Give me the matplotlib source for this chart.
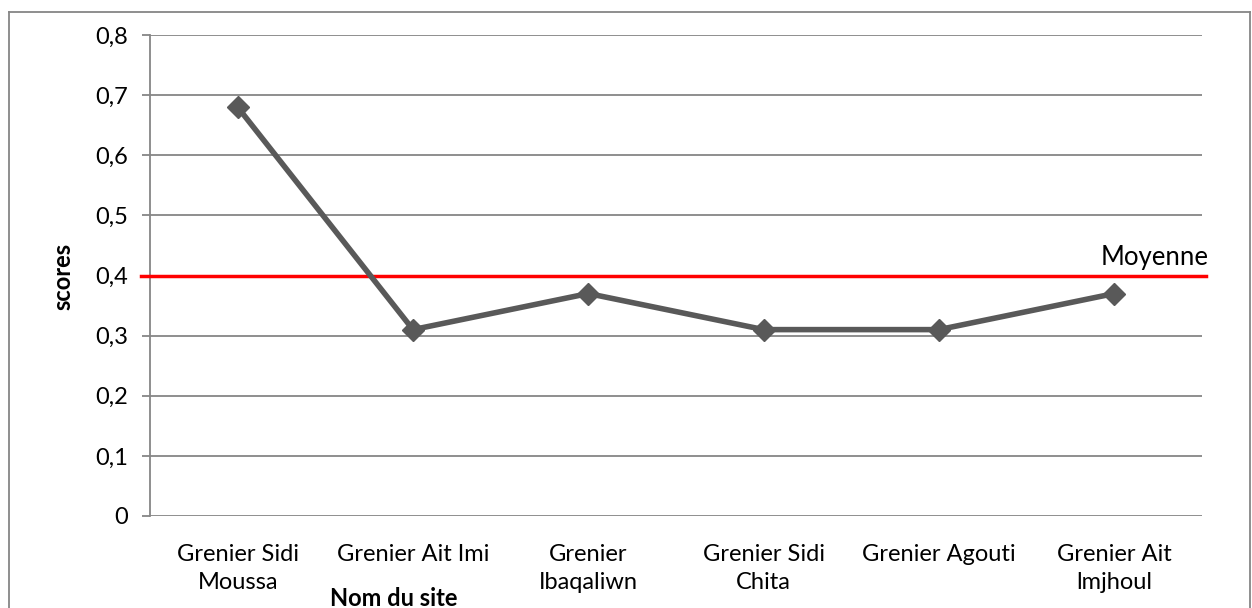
import matplotlib
matplotlib.use("Agg")
import matplotlib.pyplot as plt
from matplotlib.lines import Line2D

sites = ["Grenier Sidi\nMoussa", "Grenier Ait Imi", "Grenier\nIbaqaliwn",
         "Grenier Sidi\nChita", "Grenier Agouti", "Grenier Ait\nlmjhoul"]
scores = [0.68, 0.31, 0.37, 0.31, 0.31, 0.37]
moyenne = 0.4
yticks = [0, 0.1, 0.2, 0.3, 0.4, 0.5, 0.6, 0.7, 0.8]
ytick_labels = ["0", "0,1", "0,2", "0,3", "0,4", "0,5", "0,6", "0,7", "0,8"]

plt.rcParams["font.family"] = ["Lato", "DejaVu Sans"]

W, H = 1252, 608
fig = plt.figure(figsize=(W / 100, H / 100), dpi=100)
ax = fig.add_axes([150 / W, (H - 516) / H, 1052 / W, 481 / H])

x = list(range(len(sites)))
ax.set_xlim(-0.5, len(sites) - 0.5)
ax.set_ylim(0, 0.8)

ax.set_yticks(yticks)
ax.set_yticklabels(ytick_labels, fontsize=17)
ax.set_xticks(x)
ax.set_xticklabels(sites, fontsize=17, linespacing=1.45)
ax.tick_params(axis="x", length=0, pad=20)
ax.tick_params(axis="y", length=6, color="#868686", width=1.3, pad=10)
ax.grid(axis="y", color="#868686", linewidth=1.3)
ax.set_axisbelow(True)
for s in ("top", "right", "bottom"):
    ax.spines[s].set_visible(False)
ax.spines["left"].set_color("#868686")
ax.spines["left"].set_linewidth(1.3)

# moyenne line
ax.plot([-0.55, len(sites) - 0.48], [moyenne, moyenne], color="#ff0000",
        linewidth=2.5, clip_on=False, zorder=3)
ax.text(4.92, 0.418, "Moyenne", fontsize=18.5, ha="left", va="baseline")

ax.plot(x, scores, color="#595959", linewidth=4, marker="D", markersize=11,
        zorder=4, clip_on=False)

fig.text(63 / W, 1 - 276 / H, "scores", fontsize=17, fontweight="bold",
         rotation=90, ha="center", va="center")
fig.text(394 / W, 1 - 598 / H, "Nom du site", fontsize=17, fontweight="bold",
         ha="center", va="center")

# outer chart border
for xs, ys in [([9, 9], [12, H]), ([9, W - 2], [12, 12]), ([W - 2, W - 2], [12, H])]:
    fig.add_artist(Line2D([v / W for v in xs], [1 - v / H for v in ys],
                          color="#868686", linewidth=1.3))

fig.savefig("out.png", dpi=100)
